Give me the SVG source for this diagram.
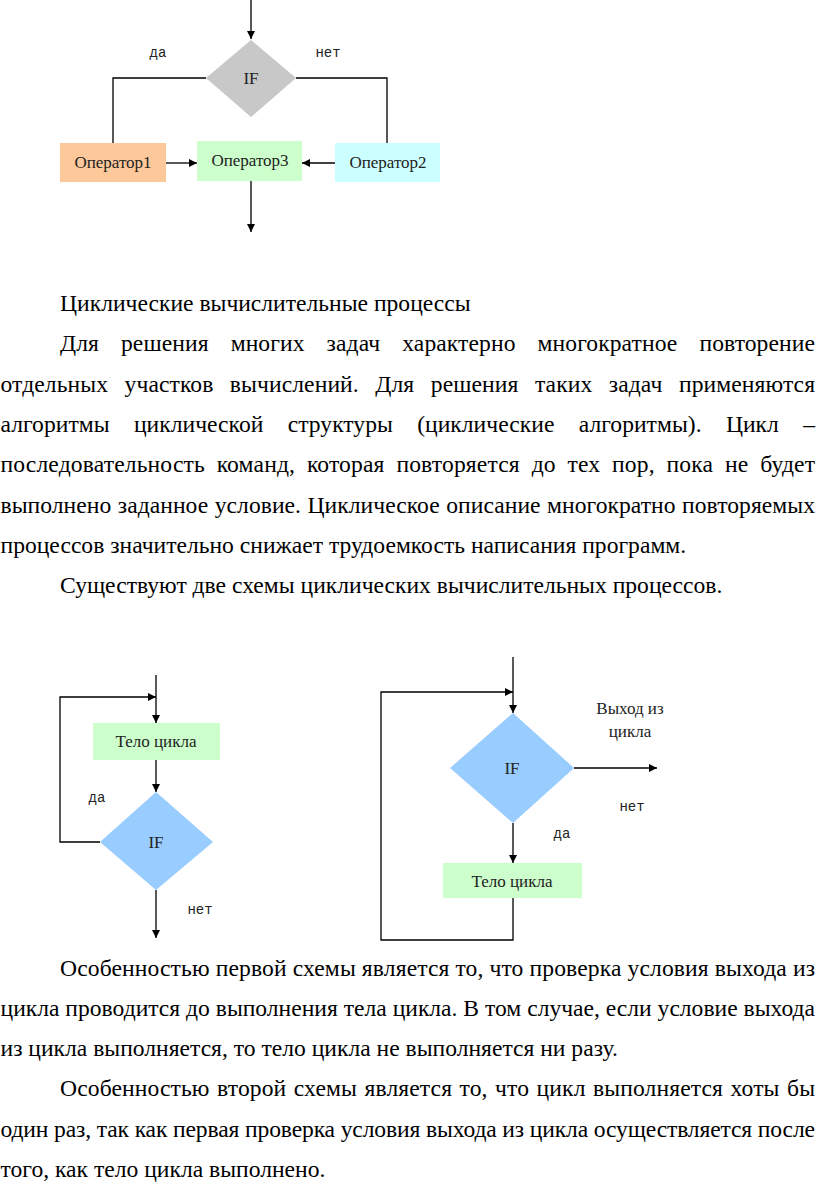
<svg xmlns="http://www.w3.org/2000/svg" width="816" height="1203" viewBox="0 0 816 1203">
<defs>
<marker id="ah" viewBox="0 0 10 10" refX="10" refY="5" markerWidth="8" markerHeight="8" markerUnits="userSpaceOnUse" orient="auto">
<path d="M0,0 L10,5 L0,10 z" fill="#000"/>
</marker>
<style>
.ln{fill:none;stroke:#000;stroke-width:1.3}
.arr{fill:none;stroke:#000;stroke-width:1.3;marker-end:url(#ah)}
.nt{font-size:17px;fill:#222;text-anchor:middle}
.lb{font-size:14px;fill:#222;text-anchor:middle}
.p{font-size:23.6px;fill:#000}
</style>
</defs>
<rect width="816" height="1203" fill="#fff"/>

<g id="connectors">
<line class="arr" x1="251" y1="0" x2="251" y2="39"/>
<polyline class="ln" points="206,78 113,78 113,143"/>
<polyline class="ln" points="296,78 387,78 387,143"/>
<line class="arr" x1="166" y1="163" x2="197" y2="163"/>
<line class="arr" x1="335" y1="163" x2="302" y2="163"/>
<line class="arr" x1="251" y1="181" x2="251" y2="232"/>

<line class="arr" x1="156" y1="675" x2="156" y2="723"/>
<polyline class="arr" points="100,842 60,842 60,697 156,697"/>
<line class="arr" x1="156" y1="760" x2="156" y2="792"/>
<line class="arr" x1="156" y1="890" x2="156" y2="938"/>

<line class="arr" x1="513" y1="657" x2="513" y2="713"/>
<polyline class="arr" points="513,898 513,940 381,940 381,692 513,692"/>
<line class="arr" x1="574" y1="768" x2="657" y2="768"/>
<line class="arr" x1="513" y1="823" x2="513" y2="863"/>
</g>

<g font-family="Liberation Serif, DejaVu Serif, serif">
<g id="if1">
<polygon points="251,40 296,78 251,117 206,78" fill="#c8c8c8"/>
<text class="nt" x="251" y="84">IF</text>
</g>
<g id="op1">
<rect x="60" y="143" width="106" height="39" fill="#fdc99a"/>
<text class="nt" x="113" y="168">Оператор1</text>
</g>
<g id="op3">
<rect x="197" y="141" width="105" height="40" fill="#ccffcc"/>
<text class="nt" x="250" y="166">Оператор3</text>
</g>
<g id="op2">
<rect x="335" y="143" width="105" height="39" fill="#ccffff"/>
<text class="nt" x="388" y="168">Оператор2</text>
</g>

<g id="body1">
<rect x="93" y="723" width="127" height="37" fill="#ccffcc"/>
<text class="nt" x="156" y="747">Тело цикла</text>
</g>
<g id="if2">
<polygon points="156,792 213,842 156,890 100,842" fill="#99ccff"/>
<text class="nt" x="156" y="848">IF</text>
</g>

<g id="if3">
<polygon points="513,713 574,768 513,823 450,768" fill="#99ccff"/>
<text class="nt" x="512" y="774">IF</text>
</g>
<g id="body2">
<rect x="443" y="863" width="139" height="35" fill="#ccffcc"/>
<text class="nt" x="512" y="887">Тело цикла</text>
</g>
<g id="exitlabel">
<text class="nt" x="630" y="714">Выход из</text>
<text class="nt" x="630" y="737">цикла</text>
</g>

<g id="text1" class="p">
<text x="60" y="311">Циклические вычислительные процессы</text>
<text x="60" y="351.3" word-spacing="16" textLength="755" lengthAdjust="spacing">Для решения многих задач характерно многократное повторение</text>
<text x="0.5" y="391.6" word-spacing="10.5" textLength="814.5" lengthAdjust="spacing">отдельных участков вычислений. Для решения таких задач применяются</text>
<text x="0.5" y="431.9" word-spacing="18.4" textLength="814.5" lengthAdjust="spacing">алгоритмы циклической структуры (циклические алгоритмы). Цикл –</text>
<text x="0.5" y="472.2" word-spacing="5.8" textLength="814.5" lengthAdjust="spacing">последовательность команд, которая повторяется до тех пор, пока не будет</text>
<text x="0.5" y="512.5" word-spacing="0.5" textLength="814.5" lengthAdjust="spacing">выполнено заданное условие. Циклическое описание многократно повторяемых</text>
<text x="0.5" y="552.8">процессов значительно снижает трудоемкость написания программ.</text>
<text x="60" y="593.1">Существуют две схемы циклических вычислительных процессов.</text>
</g>

<g id="text2" class="p">
<text x="60" y="975.7" textLength="755" lengthAdjust="spacing">Особенностью первой схемы является то, что проверка условия выхода из</text>
<text x="0.5" y="1015.9" textLength="814.5" lengthAdjust="spacing">цикла проводится до выполнения тела цикла. В том случае, если условие выхода</text>
<text x="0.5" y="1056.1">из цикла выполняется, то тело цикла не выполняется ни разу.</text>
<text x="60" y="1096.3" word-spacing="1.5" textLength="755" lengthAdjust="spacing">Особенностью второй схемы является то, что цикл выполняется хоты бы</text>
<text x="0.5" y="1136.5" textLength="814.5" lengthAdjust="spacing">один раз, так как первая проверка условия выхода из цикла осуществляется после</text>
<text x="0.5" y="1176.7">того, как тело цикла выполнено.</text>
</g>
</g>

<g id="labels" font-family="Liberation Mono, DejaVu Sans Mono, monospace">
<text class="lb" x="158" y="57">да</text>
<text class="lb" x="328" y="57">нет</text>
<text class="lb" x="97" y="802">да</text>
<text class="lb" x="200" y="914">нет</text>
<text class="lb" x="632" y="811">нет</text>
<text class="lb" x="562" y="838">да</text>
</g>
</svg>
